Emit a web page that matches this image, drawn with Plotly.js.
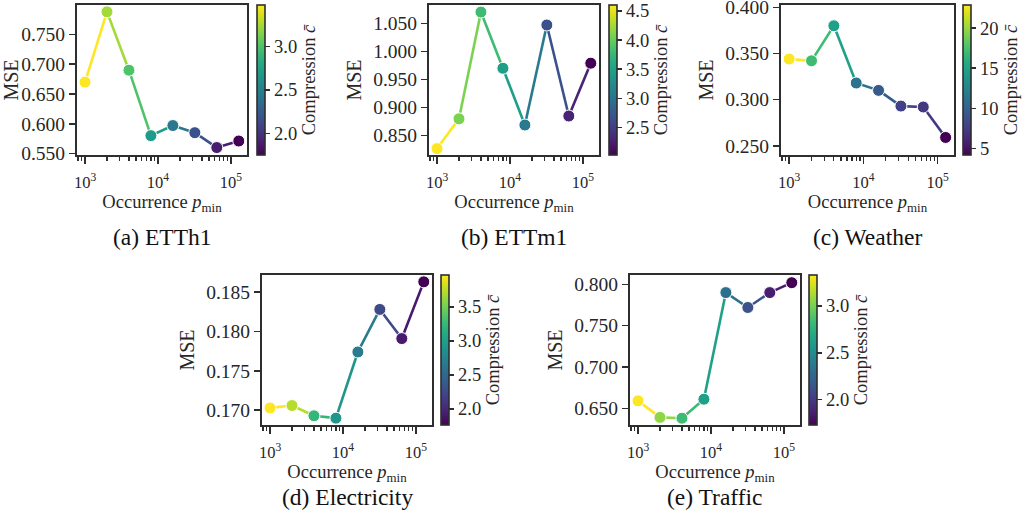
<!DOCTYPE html>
<html>
<head>
<meta charset="utf-8">
<script src="https://cdn.plot.ly/plotly-3.0.1.min.js"></script>
<style>html,body{margin:0;padding:0;background:#fff;}#chart{width:1023px;height:521px;}</style>
</head>
<body>
<div id="chart"></div>
<script>
// ---------------- data ----------------
const pmin = [1000, 2000, 4000, 8000, 16000, 32000, 64000, 128000];

const mseETTh1 = [0.670, 0.788, 0.690, 0.580, 0.597, 0.585, 0.560, 0.571];
const compETTh1 = [3.48, 3.24, 3.00, 2.70, 2.44, 2.18, 1.89, 1.75];

const mseETTm1 = [0.827, 0.880, 1.070, 0.970, 0.869, 1.047, 0.885, 0.979];
const compETTm1 = [4.60, 4.09, 3.80, 3.47, 3.08, 2.67, 2.29, 2.03];

const mseWeather = [0.344, 0.342, 0.380, 0.318, 0.310, 0.293, 0.292, 0.259];
const compWeather = [22.9, 17.1, 14.8, 11.3, 9.4, 7.7, 7.2, 4.17];

const mseElectricity = [0.1703, 0.1706, 0.1693, 0.1690, 0.1774, 0.1828, 0.1791, 0.1863];
const compElectricity = [3.97, 3.73, 3.22, 2.91, 2.67, 2.25, 1.91, 1.76];

const mseTraffic = [0.659, 0.639, 0.638, 0.661, 0.790, 0.772, 0.790, 0.802];
const compTraffic = [3.33, 3.06, 2.83, 2.64, 2.32, 2.13, 1.86, 1.73];

const captions = ['(a) ETTh1', '(b) ETTm1', '(c) Weather', '(d) Electricity', '(e) Traffic'];
const xTickVals = [1000, 10000, 100000];
const xTickText = ['10<sup>3</sup>', '10<sup>4</sup>', '10<sup>5</sup>'];

const datasets = [
  {mse: mseETTh1, comp: compETTh1},
  {mse: mseETTm1, comp: compETTm1},
  {mse: mseWeather, comp: compWeather},
  {mse: mseElectricity, comp: compElectricity},
  {mse: mseTraffic, comp: compTraffic}
];

// ---------------- layout / styling ----------------
const W = 1023, H = 521;
const geom = [
  {x0: 77,  x1: 247, y0: 5,   y1: 155, cb: 257, cap: 237, yr: [0.5475, 0.7995], yd: 0.05, cd: 0.5, cf: '.1f'},
  {x0: 429, x1: 599, y0: 5,   y1: 155, cb: 609, cap: 237, yr: [0.8156, 1.0826], yd: 0.05, cd: 0.5, cf: '.1f'},
  {x0: 781, x1: 954, y0: 5,   y1: 155, cb: 963, cap: 237, yr: [0.240, 0.4025],  yd: 0.05, cd: 5,   cf: 'd'},
  {x0: 262, x1: 432, y0: 275, y1: 425, cb: 441, cap: 497, yr: [0.16813, 0.18717], yd: 0.005, cd: 0.5, cf: '.1f'},
  {x0: 630, x1: 800, y0: 275, y1: 425, cb: 809, cap: 497, yr: [0.6298, 0.8113], yd: 0.05, cd: 0.5, cf: '.1f'}
];

const FONT = 'Liberation Serif, Times New Roman, serif';
const INK = '#262626';
const FRAME = '#2e2e2e';

const viridisStops = [
  [0, '#440154'], [0.06274509803921569, '#48186a'], [0.12549019607843137, '#472d7b'],
  [0.18823529411764706, '#424086'], [0.25098039215686274, '#3b528b'], [0.3137254901960784, '#33638d'],
  [0.3764705882352941, '#2c728e'], [0.4392156862745098, '#26828e'], [0.5019607843137255, '#21918c'],
  [0.5647058823529412, '#1fa088'], [0.6274509803921569, '#28ae80'], [0.6901960784313725, '#3fbc73'],
  [0.7529411764705882, '#5ec962'], [0.8156862745098039, '#84d44b'], [0.8784313725490196, '#addc30'],
  [0.9411764705882353, '#d8e219'], [1, '#fde725']
];
function hex2rgb(h) { return [1, 3, 5].map(i => parseInt(h.substr(i, 2), 16)); }
function viridis(t) {
  t = Math.max(0, Math.min(1, t));
  for (let i = 0; i < viridisStops.length - 1; i++) {
    const [a, ca] = viridisStops[i], [b, cb] = viridisStops[i + 1];
    if (t <= b) {
      const f = (t - a) / (b - a);
      const A = hex2rgb(ca), B = hex2rgb(cb);
      const c = A.map((v, j) => Math.round(v + (B[j] - v) * f));
      return 'rgb(' + c.join(',') + ')';
    }
  }
  return viridisStops[viridisStops.length - 1][1];
}

const traces = [];
const layout = {
  width: W, height: H,
  margin: {l: 0, r: 0, t: 0, b: 0},
  paper_bgcolor: '#ffffff', plot_bgcolor: '#ffffff',
  showlegend: false,
  font: {family: FONT, color: INK, size: 18},
  annotations: []
};

datasets.forEach((d, k) => {
  const n = k + 1, s = n > 1 ? String(n) : '';
  const xa = 'x' + s, ya = 'y' + s, ca = 'coloraxis' + s;
  const g = geom[k];
  const cmin = Math.min(...d.comp), cmax = Math.max(...d.comp);

  for (let i = 0; i < pmin.length - 1; i++) {
    traces.push({
      type: 'scatter', mode: 'lines', xaxis: xa, yaxis: ya,
      x: [pmin[i], pmin[i + 1]], y: [d.mse[i], d.mse[i + 1]],
      line: {color: viridis((d.comp[i] - cmin) / (cmax - cmin)), width: 2.6},
      hoverinfo: 'skip', showlegend: false
    });
  }
  traces.push({
    type: 'scatter', mode: 'markers', xaxis: xa, yaxis: ya,
    x: pmin, y: d.mse,
    marker: {color: d.comp, coloraxis: ca, size: 12, line: {color: '#ffffff', width: 1}},
    showlegend: false
  });

  layout['xaxis' + s] = {
    type: 'log', anchor: ya,
    domain: [g.x0 / W, g.x1 / W],
    range: [2.89, 5.22],
    tickvals: xTickVals, ticktext: xTickText,
    ticks: 'outside', ticklen: 7, tickwidth: 1.6, tickcolor: FRAME,
    ticklabelstandoff: 4,
    tickfont: {size: 16.5, family: FONT, color: INK},
    minor: {ticks: 'outside', ticklen: 4, tickwidth: 1.2, tickcolor: FRAME, dtick: 'D1', showgrid: false},
    showline: true, mirror: true, linecolor: FRAME, linewidth: 2,
    showgrid: false, zeroline: false,
    title: {text: 'Occurrence <i>p</i><sub>min</sub>', font: {size: 18.5, family: FONT, color: INK}, standoff: 4}
  };
  layout['yaxis' + s] = {
    anchor: xa,
    domain: [1 - g.y1 / H, 1 - g.y0 / H],
    range: g.yr, dtick: g.yd, tick0: 0, tickformat: '.3f',
    ticks: 'outside', ticklen: 6, tickwidth: 1.6, tickcolor: FRAME,
    ticklabeloverflow: 'allow',
    tickfont: {size: 19.5, family: FONT, color: INK},
    showline: true, mirror: true, linecolor: FRAME, linewidth: 2,
    showgrid: false, zeroline: false,
    title: {text: 'MSE', font: {size: 20, family: FONT, color: INK}, standoff: 6}
  };
  layout[ca] = {
    colorscale: 'Viridis', cmin: cmin, cmax: cmax,
    colorbar: {
      x: g.cb / W, xanchor: 'left', xpad: 0, ypad: 0,
      y: 1 - (g.y0 + g.y1) / 2 / H, yanchor: 'middle',
      len: (g.y1 - g.y0) / H, lenmode: 'fraction',
      thickness: 8, thicknessmode: 'pixels',
      outlinewidth: 1.6, outlinecolor: FRAME,
      ticks: 'outside', ticklen: 5, tickwidth: 1.6, tickcolor: FRAME,
      ticklabeloverflow: 'allow',
      dtick: g.cd, tick0: 0, tickformat: g.cf,
      tickfont: {size: 18.5, family: FONT, color: INK},
      title: {text: 'Compression <i>c\u0304</i>', side: 'right', font: {size: 18.5, family: FONT, color: INK}}
    }
  };
  layout.annotations.push({
    xref: 'paper', yref: 'paper', showarrow: false,
    x: (g.x0 + g.x1) / 2 / W, y: 1 - g.cap / H, xanchor: 'center', yanchor: 'middle',
    text: captions[k], font: {size: 23.5, family: FONT, color: '#111111'}
  });
});

Plotly.newPlot('chart', traces, layout, {displayModeBar: false, staticPlot: true});
</script>
</body>
</html>
